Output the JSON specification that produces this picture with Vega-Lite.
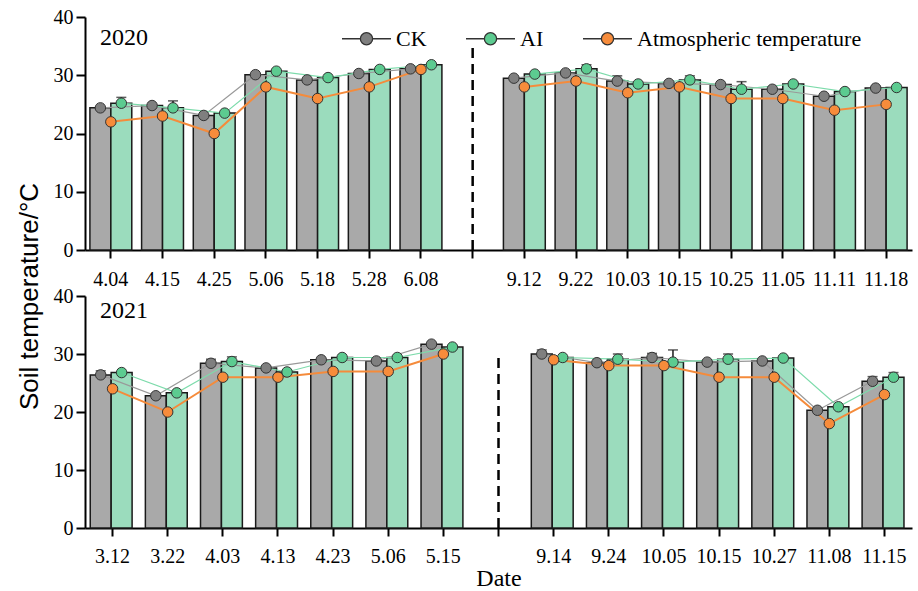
{
  "$schema": "https://vega.github.io/schema/vega-lite/v6.json",
  "padding": {"left": 16, "top": 7, "right": 3, "bottom": 0},
  "background": "white",
  "datasets": {
    "temps": [
      {"year": "2020", "date": "4.04", "period": "a", "CK": 24.4, "AI": 25.2, "Atmospheric temperature": 22},
      {"year": "2020", "date": "4.15", "period": "a", "CK": 24.8, "AI": 24.4, "Atmospheric temperature": 23},
      {"year": "2020", "date": "4.25", "period": "a", "CK": 23.1, "AI": 23.5, "Atmospheric temperature": 20},
      {"year": "2020", "date": "5.06", "period": "a", "CK": 30.1, "AI": 30.7, "Atmospheric temperature": 28},
      {"year": "2020", "date": "5.18", "period": "a", "CK": 29.2, "AI": 29.6, "Atmospheric temperature": 26},
      {"year": "2020", "date": "5.28", "period": "a", "CK": 30.3, "AI": 31.0, "Atmospheric temperature": 28},
      {"year": "2020", "date": "6.08", "period": "a", "CK": 31.1, "AI": 31.8, "Atmospheric temperature": 31},
      {"year": "2020", "date": "9.12", "period": "b", "CK": 29.5, "AI": 30.2, "Atmospheric temperature": 28},
      {"year": "2020", "date": "9.22", "period": "b", "CK": 30.4, "AI": 31.1, "Atmospheric temperature": 29},
      {"year": "2020", "date": "10.03", "period": "b", "CK": 29.0, "AI": 28.5, "Atmospheric temperature": 27},
      {"year": "2020", "date": "10.15", "period": "b", "CK": 28.6, "AI": 29.2, "Atmospheric temperature": 28},
      {"year": "2020", "date": "10.25", "period": "b", "CK": 28.4, "AI": 27.6, "Atmospheric temperature": 26},
      {"year": "2020", "date": "11.05", "period": "b", "CK": 27.6, "AI": 28.5, "Atmospheric temperature": 26},
      {"year": "2020", "date": "11.11", "period": "b", "CK": 26.4, "AI": 27.2, "Atmospheric temperature": 24},
      {"year": "2020", "date": "11.18", "period": "b", "CK": 27.8, "AI": 27.9, "Atmospheric temperature": 25},
      {"year": "2021", "date": "3.12", "period": "a", "CK": 26.4, "AI": 26.8, "Atmospheric temperature": 24},
      {"year": "2021", "date": "3.22", "period": "a", "CK": 22.8, "AI": 23.3, "Atmospheric temperature": 20},
      {"year": "2021", "date": "4.03", "period": "a", "CK": 28.4, "AI": 28.7, "Atmospheric temperature": 26},
      {"year": "2021", "date": "4.13", "period": "a", "CK": 27.6, "AI": 26.9, "Atmospheric temperature": 26},
      {"year": "2021", "date": "4.23", "period": "a", "CK": 29.0, "AI": 29.4, "Atmospheric temperature": 27},
      {"year": "2021", "date": "5.06", "period": "a", "CK": 28.8, "AI": 29.4, "Atmospheric temperature": 27},
      {"year": "2021", "date": "5.15", "period": "a", "CK": 31.7, "AI": 31.2, "Atmospheric temperature": 30},
      {"year": "2021", "date": "9.14", "period": "b", "CK": 30.0, "AI": 29.4, "Atmospheric temperature": 29},
      {"year": "2021", "date": "9.24", "period": "b", "CK": 28.5, "AI": 29.1, "Atmospheric temperature": 28},
      {"year": "2021", "date": "10.05", "period": "b", "CK": 29.4, "AI": 28.6, "Atmospheric temperature": 28},
      {"year": "2021", "date": "10.15", "period": "b", "CK": 28.6, "AI": 29.1, "Atmospheric temperature": 26},
      {"year": "2021", "date": "10.27", "period": "b", "CK": 28.8, "AI": 29.3, "Atmospheric temperature": 26},
      {"year": "2021", "date": "11.08", "period": "b", "CK": 20.3, "AI": 20.9, "Atmospheric temperature": 18},
      {"year": "2021", "date": "11.15", "period": "b", "CK": 25.3, "AI": 26.0, "Atmospheric temperature": 23}
    ],
    "errs": [
      {"year": "2020", "date": "4.04", "series": "AI", "value": 25.2, "hi": 26.2},
      {"year": "2020", "date": "4.15", "series": "AI", "value": 24.4, "hi": 25.6},
      {"year": "2020", "date": "9.22", "series": "AI", "value": 31.1, "hi": 31.8},
      {"year": "2020", "date": "10.03", "series": "CK", "value": 29.0, "hi": 29.9},
      {"year": "2020", "date": "10.15", "series": "AI", "value": 29.2, "hi": 29.9},
      {"year": "2020", "date": "10.25", "series": "AI", "value": 27.6, "hi": 28.9},
      {"year": "2021", "date": "3.12", "series": "CK", "value": 26.4, "hi": 27.1},
      {"year": "2021", "date": "4.03", "series": "CK", "value": 28.4, "hi": 29.1},
      {"year": "2021", "date": "4.03", "series": "AI", "value": 28.7, "hi": 29.5},
      {"year": "2021", "date": "9.14", "series": "CK", "value": 30.0, "hi": 30.7},
      {"year": "2021", "date": "9.24", "series": "AI", "value": 29.1, "hi": 30.0},
      {"year": "2021", "date": "10.05", "series": "CK", "value": 29.4, "hi": 30.1},
      {"year": "2021", "date": "10.05", "series": "AI", "value": 28.6, "hi": 30.7},
      {"year": "2021", "date": "10.15", "series": "AI", "value": 29.1, "hi": 30.0},
      {"year": "2021", "date": "11.15", "series": "CK", "value": 25.3, "hi": 26.1},
      {"year": "2021", "date": "11.15", "series": "AI", "value": 26.0, "hi": 26.8}
    ],
    "divider": [
      {"year": "2020", "date": " ", "bottom": 0, "top": 35},
      {"year": "2021", "date": " ", "bottom": 0, "top": 30}
    ]
  },
  "resolve": {"scale": {"x": "independent", "color": "independent"}, "legend": {"color": "independent"}},
  "bounds": "flush",
  "spacing": 46,
  "vconcat": [
    {
      "width": 827,
      "height": 233,
      "title": {"text": "2020", "anchor": "start", "frame": "group", "offset": -43, "dx": 15, "fontSize": 24, "font": "Liberation Serif", "fontWeight": "normal", "color": "black"},
      "encoding": {
        "x": {
          "field": "date", "type": "nominal",
          "scale": {"domain": ["4.04","4.15","4.25","5.06","5.18","5.28","6.08"," ","9.12","9.22","10.03","10.15","10.25","11.05","11.11","11.18"], "paddingInner": 0.19, "paddingOuter": 0.095},
          "axis": {"labelAngle": 0, "tickSize": 8, "labelPadding": 11, "title": null}
        }
      },
      "layer": [
        {
          "data": {"name": "temps"},
          "transform": [{"filter": "datum.year == '2020'"}, {"fold": ["CK", "AI"], "as": ["series", "value"]}],
          "mark": {"type": "bar", "stroke": "#1a1a1a", "strokeWidth": 1.5},
          "encoding": {
            "y": {"field": "value", "type": "quantitative", "scale": {"domain": [0, 40]},
              "axis": {"values": [0,5,10,15,20,25,30,35,40], "labelExpr": "datum.value % 10 === 0 ? datum.label : ''",
                "tickSize": {"condition": {"test": "datum.value % 10 === 0", "value": 9}, "value": 5}, "labelPadding": 3,
                "title": "Soil temperature/°C", "titleY": 279, "titlePadding": 11, "titleFont": "Liberation Sans", "titleFontSize": 26}},
            "xOffset": {"field": "series", "type": "nominal", "scale": {"domain": ["CK", "AI"], "paddingInner": 0, "paddingOuter": 0}},
            "fill": {"field": "series", "type": "nominal", "scale": {"domain": ["CK", "AI"], "range": ["#a9a9a9", "#9bdcbd"]}, "legend": null}
          }
        },
        {
          "data": {"name": "errs"},
          "transform": [{"filter": "datum.year == '2020'"}],
          "mark": {"type": "rule", "color": "#1a1a1a", "strokeWidth": 1.5},
          "encoding": {
            "y": {"field": "value", "type": "quantitative"},
            "y2": {"field": "hi"},
            "xOffset": {"field": "series", "type": "nominal"}
          }
        },
        {
          "data": {"name": "errs"},
          "transform": [{"filter": "datum.year == '2020'"}],
          "mark": {"type": "tick", "color": "#1a1a1a", "thickness": 1.5, "size": 10, "orient": "horizontal"},
          "encoding": {
            "y": {"field": "hi", "type": "quantitative"},
            "xOffset": {"field": "series", "type": "nominal"}
          }
        },
        {
          "data": {"name": "temps"},
          "transform": [{"filter": "datum.year == '2020'"}, {"fold": ["CK", "AI"], "as": ["series", "value"]}],
          "mark": {"type": "line", "strokeWidth": 1.2},
          "encoding": {
            "y": {"field": "value", "type": "quantitative"},
            "xOffset": {"field": "series", "type": "nominal"},
            "stroke": {"field": "series", "type": "nominal", "scale": {"domain": ["CK", "AI", "Atmospheric temperature"], "range": ["#999999", "#7ddbab", "#f58b3b"]}, "legend": null},
            "detail": {"field": "period", "type": "nominal"}
          }
        },
        {
          "data": {"name": "temps"},
          "transform": [{"filter": "datum.year == '2020'"}, {"fold": ["Atmospheric temperature"], "as": ["series", "value"]}],
          "mark": {"type": "line", "strokeWidth": 2},
          "encoding": {
            "y": {"field": "value", "type": "quantitative"},
            "stroke": {"field": "series", "type": "nominal", "legend": null},
            "detail": {"field": "period", "type": "nominal"}
          }
        },
        {
          "data": {"name": "temps"},
          "transform": [{"filter": "datum.year == '2020'"}, {"fold": ["CK", "AI"], "as": ["series", "value"]}],
          "mark": {"type": "point", "filled": true, "size": 110, "stroke": "#333333", "strokeWidth": 1, "opacity": 1},
          "encoding": {
            "y": {"field": "value", "type": "quantitative"},
            "xOffset": {"field": "series", "type": "nominal"},
            "color": {"field": "series", "type": "nominal",
              "scale": {"domain": ["CK", "AI", "Atmospheric temperature"], "range": ["#7f7f7f", "#5ccb90", "#f78c3b"]},
              "legend": {"title": null, "orient": "none", "direction": "horizontal", "legendX": 256, "legendY": -4,
                "labelFont": "Liberation Serif", "labelFontSize": 22, "labelColor": "black", "labelOffset": 4, "labelLimit": 0, "columnPadding": 36,
                "symbolType": "M-1,0L-0.25,0M0.25,0L1,0M-0.25,0A0.25,0.25,0,1,0,0.25,0A0.25,0.25,0,1,0,-0.25,0Z",
                "symbolSize": 2400, "symbolStrokeWidth": 1.3, "symbolStrokeColor": "#555555", "symbolOpacity": 1}
            }
          }
        },
        {
          "data": {"name": "temps"},
          "transform": [{"filter": "datum.year == '2020'"}, {"fold": ["Atmospheric temperature"], "as": ["series", "value"]}],
          "mark": {"type": "point", "filled": true, "size": 110, "stroke": "#333333", "strokeWidth": 1, "opacity": 1},
          "encoding": {
            "y": {"field": "value", "type": "quantitative"},
            "color": {"field": "series", "type": "nominal"}
          }
        },
        {
          "data": {"name": "divider"},
          "transform": [{"filter": "datum.year == '2020'"}],
          "mark": {"type": "rule", "color": "black", "strokeWidth": 2.5, "strokeDash": [10, 6]},
          "encoding": {
            "y": {"field": "bottom", "type": "quantitative"},
            "y2": {"field": "top"}
          }
        }
      ]
    },
    {
      "width": 827,
      "height": 232,
      "title": {"text": "2021", "anchor": "start", "frame": "group", "offset": -37, "dx": 15, "fontSize": 24, "font": "Liberation Serif", "fontWeight": "normal", "color": "black"},
      "encoding": {
        "x": {
          "field": "date", "type": "nominal",
          "scale": {"domain": ["3.12","3.22","4.03","4.13","4.23","5.06","5.15"," ","9.14","9.24","10.05","10.15","10.27","11.08","11.15"], "paddingInner": 0.19, "paddingOuter": 0.095},
          "axis": {"labelAngle": 0, "tickSize": 8, "labelPadding": 10, "title": "Date", "titlePadding": 0}
        }
      },
      "layer": [
        {
          "data": {"name": "temps"},
          "transform": [{"filter": "datum.year == '2021'"}, {"fold": ["CK", "AI"], "as": ["series", "value"]}],
          "mark": {"type": "bar", "stroke": "#1a1a1a", "strokeWidth": 1.5},
          "encoding": {
            "y": {"field": "value", "type": "quantitative", "scale": {"domain": [0, 40]},
              "axis": {"values": [0,5,10,15,20,25,30,35,40], "labelExpr": "datum.value % 10 === 0 ? datum.label : ''",
                "tickSize": {"condition": {"test": "datum.value % 10 === 0", "value": 9}, "value": 5}, "labelPadding": 3,
                "title": null}},
            "xOffset": {"field": "series", "type": "nominal", "scale": {"domain": ["CK", "AI"], "paddingInner": 0, "paddingOuter": 0}},
            "fill": {"field": "series", "type": "nominal", "legend": null}
          }
        },
        {
          "data": {"name": "errs"},
          "transform": [{"filter": "datum.year == '2021'"}],
          "mark": {"type": "rule", "color": "#1a1a1a", "strokeWidth": 1.5},
          "encoding": {
            "y": {"field": "value", "type": "quantitative"},
            "y2": {"field": "hi"},
            "xOffset": {"field": "series", "type": "nominal"}
          }
        },
        {
          "data": {"name": "errs"},
          "transform": [{"filter": "datum.year == '2021'"}],
          "mark": {"type": "tick", "color": "#1a1a1a", "thickness": 1.5, "size": 10, "orient": "horizontal"},
          "encoding": {
            "y": {"field": "hi", "type": "quantitative"},
            "xOffset": {"field": "series", "type": "nominal"}
          }
        },
        {
          "data": {"name": "temps"},
          "transform": [{"filter": "datum.year == '2021'"}, {"fold": ["CK", "AI"], "as": ["series", "value"]}],
          "mark": {"type": "line", "strokeWidth": 1.2},
          "encoding": {
            "y": {"field": "value", "type": "quantitative"},
            "xOffset": {"field": "series", "type": "nominal"},
            "stroke": {"field": "series", "type": "nominal", "legend": null},
            "detail": {"field": "period", "type": "nominal"}
          }
        },
        {
          "data": {"name": "temps"},
          "transform": [{"filter": "datum.year == '2021'"}, {"fold": ["Atmospheric temperature"], "as": ["series", "value"]}],
          "mark": {"type": "line", "strokeWidth": 2},
          "encoding": {
            "y": {"field": "value", "type": "quantitative"},
            "stroke": {"field": "series", "type": "nominal", "legend": null},
            "detail": {"field": "period", "type": "nominal"}
          }
        },
        {
          "data": {"name": "temps"},
          "transform": [{"filter": "datum.year == '2021'"}, {"fold": ["CK", "AI"], "as": ["series", "value"]}],
          "mark": {"type": "point", "filled": true, "size": 110, "stroke": "#333333", "strokeWidth": 1, "opacity": 1},
          "encoding": {
            "y": {"field": "value", "type": "quantitative"},
            "xOffset": {"field": "series", "type": "nominal"},
            "color": {"field": "series", "type": "nominal",
              "scale": {"domain": ["CK", "AI", "Atmospheric temperature"], "range": ["#7f7f7f", "#5ccb90", "#f78c3b"]}, "legend": null}
          }
        },
        {
          "data": {"name": "temps"},
          "transform": [{"filter": "datum.year == '2021'"}, {"fold": ["Atmospheric temperature"], "as": ["series", "value"]}],
          "mark": {"type": "point", "filled": true, "size": 110, "stroke": "#333333", "strokeWidth": 1, "opacity": 1},
          "encoding": {
            "y": {"field": "value", "type": "quantitative"},
            "color": {"field": "series", "type": "nominal", "legend": null}
          }
        },
        {
          "data": {"name": "divider"},
          "transform": [{"filter": "datum.year == '2021'"}],
          "mark": {"type": "rule", "color": "black", "strokeWidth": 2.5, "strokeDash": [10, 6]},
          "encoding": {
            "y": {"field": "bottom", "type": "quantitative"},
            "y2": {"field": "top"}
          }
        }
      ]
    }
  ],
  "config": {
    "view": {"stroke": null},
    "font": "Liberation Serif",
    "axis": {
      "domainColor": "black", "domainWidth": 2, "tickColor": "black", "tickWidth": 2, "grid": false,
      "labelFont": "Liberation Serif", "labelFontSize": 20, "labelColor": "black",
      "titleFont": "Liberation Serif", "titleFontSize": 24, "titleFontWeight": "normal", "titleColor": "black"
    }
  }
}
